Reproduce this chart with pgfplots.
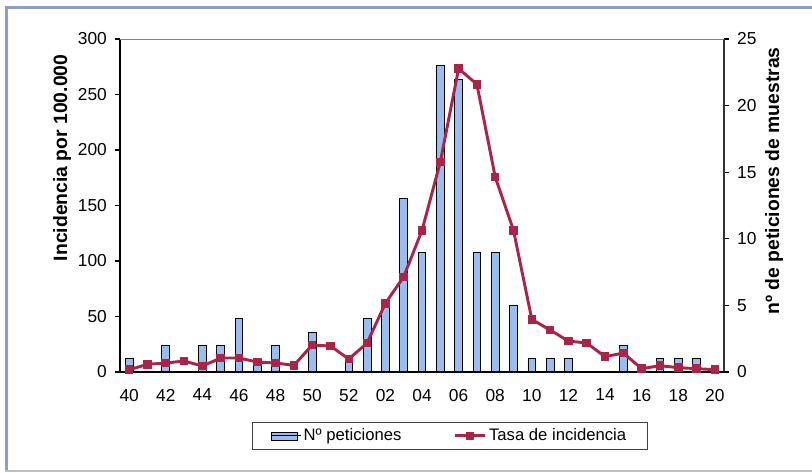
\documentclass[border=0pt]{standalone}
\usepackage{pgfplots}
\pgfplotsset{compat=1.18}
\usepackage{fontspec}
\setmainfont{Liberation Sans}
\definecolor{barblue}{RGB}{153,189,240}
\definecolor{linered}{RGB}{168,36,72}
\definecolor{framecol}{RGB}{140,158,200}
\begin{document}
\begin{tikzpicture}[x=0.75pt,y=0.75pt]
\useasboundingbox (-120,-100) rectangle (692,372);
\draw[framecol, line width=2.25pt] (-113.5,-100) -- (-113.5,364.5) -- (692,364.5);
\draw[color=black!25, line width=1.2pt] (-115,-98.8) -- (692,-98.8);
\pgfplotsset{common/.style={
  scale only axis, width=453pt, height=249.75pt,
  xmin=-0.5, xmax=32.5,
  tick align=outside,
  major tick length=3.75pt, minor tick length=3.75pt,
  /pgf/number format/assume math mode=true,
  tick label style={font=\fontsize{13}{15}\selectfont},
  label style={font=\bfseries\fontsize{14.5}{16}\selectfont},
  axis line style={line width=1pt},
  every tick/.style={line width=0.8pt, black},
}}
% bars: right axis (counts)
\begin{axis}[common,
  ymin=0, ymax=25, ytick={0,5,...,25},
  axis y line*=right, axis x line=none,
  y axis line style={black!80},
  yticklabel style={xshift=2.6pt},
  ylabel={nº de peticiones de muestras},
  ylabel style={at={(axis description cs:1.083,0.574)}, anchor=center},
]
\addplot[ybar, bar width=5.8pt, fill=barblue, draw=black, line width=0.6pt] coordinates {
(0,1) (2,2) (4,2) (5,2) (6,4) (7,1) (8,2) (10,3) (12,1)
(13,4) (14,5) (15,13) (16,9) (17,23) (18,22) (19,9) (20,9) (21,5) (22,1) (23,1)
(24,1) (27,2) (29,1) (30,1) (31,1)};
\end{axis}
% line: left axis (incidence)
\begin{axis}[common,
  ymin=0, ymax=300, ytick={0,50,...,300},
  axis y line*=left, axis x line*=bottom,
  xtick={0,2,...,32},
  xticklabels={40,42,44,46,48,50,52,02,04,06,08,10,12,14,16,18,20},
  minor xtick={-0.5,0.5,...,32.5},
  xtick style={draw=none},
  xticklabel style={yshift=-5.5pt},
  yticklabel style={xshift=-2.6pt},
  ylabel={Incidencia por 100.000},
  ylabel style={at={(axis description cs:-0.096,0.643)}, anchor=center},
  legend style={at={(0.546,-0.192)}, anchor=center, legend columns=2,
    draw=black!75, line width=0.75pt, font=\fontsize{12.5}{14}\selectfont,
    inner xsep=14pt, inner ysep=3pt,
    /tikz/every even column/.append style={column sep=37pt}},
]
\addlegendimage{legend image code/.code={\draw[fill=barblue, draw=black, line width=0.6pt] (0pt,-3pt) rectangle (19.5pt,3pt); \path (0pt,0pt) -- (22pt,0pt);}}
\addplot[linered, line width=2.2pt, mark=square*, mark size=2.1pt, mark options={solid},
  legend image code/.code={\draw[linered, line width=2.2pt] (0pt,0pt) -- (22.5pt,0pt); \fill[linered] (9.5pt,-1.8pt) rectangle (13pt,1.8pt);}]
 coordinates {
(0,2.1) (1,6.9) (2,8.1) (3,9.9) (4,5.4) (5,12.6) (6,12.6) (7,9.0) (8,8.1) (9,6.0)
(10,24.3) (11,23.4) (12,11.7) (13,26.1) (14,61.9) (15,85.8) (16,127.6) (17,189.2)
(18,273.3) (19,259.2) (20,175.7) (21,127.6) (22,47.4) (23,37.8) (24,27.9) (25,26.1)
(26,13.8) (27,17.1) (28,3.0) (29,5.7) (30,3.9) (31,3.0) (32,2.1)};
\legend{Nº peticiones, Tasa de incidencia}
\draw[black!50, line width=1pt] (rel axis cs:0,1) -- (rel axis cs:1,1);
\end{axis}
\end{tikzpicture}
\end{document}
